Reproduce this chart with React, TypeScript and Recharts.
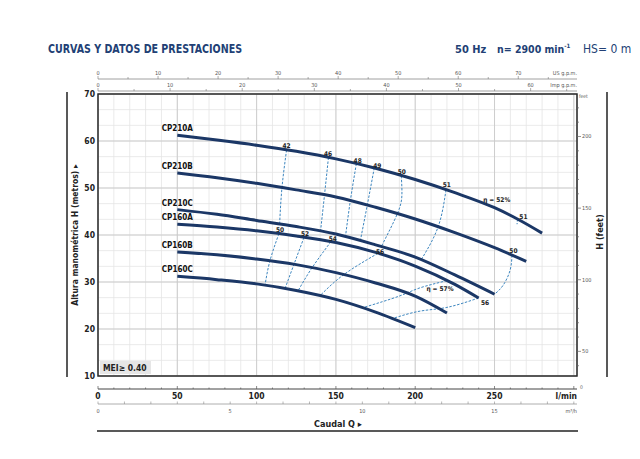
import React from 'react';
import { ComposedChart, Line, XAxis, YAxis, CartesianGrid, ReferenceArea, ReferenceDot } from 'recharts';

const FONT = "'Liberation Sans Narrow','DejaVu Sans Condensed','Liberation Sans',Arial,sans-serif";
const NAVY = '#1b3766';
const TITLE = '#223f75';
const DASH = '#3d86bf';

// unit conversions (secondary axes)
const Q_MAX = 302; // l/min at right edge of plot
const LPM_PER_USGPM = 3.78541;
const LPM_PER_IMPGPM = 4.54609;
const LPM_PER_M3H = 1000 / 60;
const FT_PER_M = 3.28084;

// ---- pump curves: flow (l/min) / head (m) ----
const cp210aFlow = [50, 75, 100, 125, 150, 175, 200, 225, 250, 265, 280];
const cp210aHead = [61.2, 60.2, 59.1, 57.8, 56.2, 54.2, 51.8, 49.0, 45.8, 43.3, 40.4];
const cp210bFlow = [50, 75, 100, 125, 150, 175, 200, 225, 250, 270];
const cp210bHead = [53.2, 52.2, 51.0, 49.6, 48.1, 45.9, 43.4, 40.5, 37.3, 34.4];
const cp210cFlow = [50, 75, 100, 125, 150, 175, 200, 225, 250];
const cp210cHead = [45.4, 44.4, 43.1, 41.8, 40.2, 37.9, 35.3, 31.5, 27.4];
const cp160aFlow = [50, 75, 100, 125, 150, 175, 200, 225, 240];
const cp160aHead = [42.3, 41.7, 40.9, 39.8, 38.4, 36.3, 33.4, 29.5, 26.6];
const cp160bFlow = [50, 75, 100, 125, 150, 175, 200, 220];
const cp160bHead = [36.4, 35.8, 34.9, 33.7, 32.0, 29.8, 27.0, 23.4];
const cp160cFlow = [50, 75, 100, 125, 150, 175, 200];
const cp160cHead = [31.2, 30.5, 29.6, 28.2, 26.3, 23.6, 20.3];
const curveNames = ['CP210A', 'CP210B', 'CP210C', 'CP160A', 'CP160B', 'CP160C'];

// ---- iso-efficiency lines (dashed): flow / head ----
const eff42Q = [118.9, 116.0, 114.5];
const eff42H = [58.1, 50.1, 42.3];
const eff46Q = [145.3, 142.8, 140.3];
const eff46H = [56.5, 48.5, 40.8];
const eff48Q = [162.9, 159.1, 156.0];
const eff48H = [55.2, 47.3, 39.6];
const eff49Q = [174.2, 169.8, 165.4];
const eff49H = [54.3, 46.4, 38.8];
const eff50Q = [191.2, 191.6, 188.7, 178.4];
const eff50H = [52.6, 48.5, 44.5, 37.4];
const eff51Q = [219.4, 214.4, 203.7];
const eff51H = [49.6, 41.7, 34.7];
const eff51rQ = [264.5, 264.2];
const eff51rH = [43.4, 42.3];
const eff50rQ = [261.0, 259.8, 255.4, 250.0];
const eff50rH = [35.7, 32.5, 29.3, 27.4];
const eff50bQ = [114.1, 108.4, 105.3];
const eff50bH = [40.3, 34.5, 29.3];
const eff52Q = [129.9, 123.6, 117.9];
const eff52H = [39.5, 33.8, 28.6];
const eff54Q = [146.9, 134.9, 126.1];
const eff54H = [38.6, 33.0, 28.1];
const eff56Q = [176.5, 155.1, 140.0];
const eff56H = [36.1, 31.6, 27.1];
const eff56rQ = [240.0, 220.0, 203.0, 185.4];
const eff56rH = [26.6, 24.6, 23.8, 22.2];
const eff57Q = [220.1, 202.5, 189.9, 166.7];
const eff57H = [30.3, 28.7, 27.0, 24.5];

// ---- efficiency labels ----
const effLabelText = ['42', '46', '48', '49', '50', '51', 'η = 52%', '51', '50', '50', '52', '54', '56', 'η = 57%', '56'];
const effLabelQ = [118.9, 145.0, 163.7, 176.1, 191.5, 219.9, 251.4, 268.2, 261.9, 114.8, 130.5, 148.0, 177.8, 215.6, 244.0];
const effLabelH = [59.1, 57.3, 55.9, 54.8, 53.4, 50.6, 47.5, 43.8, 36.7, 41.1, 40.3, 39.2, 36.4, 28.6, 25.5];

// ---- tick values ----
const lpmLabels = [0, 50, 100, 150, 200, 250];
const lpmTicks = Array.from({ length: 31 }, (_, i) => i * 10);
const lpmMajor = [50, 100, 150, 200, 250, 300];
const usTicks = Array.from({ length: 16 }, (_, i) => i * 5);
const usLabels = [0, 10, 20, 30, 40, 50, 60, 70];
const impTicks = Array.from({ length: 14 }, (_, i) => i * 5);
const impLabels = [0, 10, 20, 30, 40, 50, 60];
const m3Ticks = Array.from({ length: 19 }, (_, i) => i);
const m3Labels = [0, 5, 10, 15];
const metreTicks = Array.from({ length: 19 }, (_, i) => 10 + (i * 10) / 3);
const metreLabels = [10, 20, 30, 40, 50, 60, 70];
const metreMajor = [20, 30, 40, 50, 60];
const ftTicks = Array.from({ length: 19 }, (_, i) => 40 + i * 10);
const ftLabels = [50, 100, 150, 200];

// flow table in all units (feeds the secondary flow axes)
const flowTable = lpmTicks.map((q) => ({
  q,
  us: q / LPM_PER_USGPM,
  imp: q / LPM_PER_IMPGPM,
  m3: q / LPM_PER_M3H,
}));

const curves = [
  { name: curveNames[0], flow: cp210aFlow, head: cp210aHead },
  { name: curveNames[1], flow: cp210bFlow, head: cp210bHead },
  { name: curveNames[2], flow: cp210cFlow, head: cp210cHead },
  { name: curveNames[3], flow: cp160aFlow, head: cp160aHead },
  { name: curveNames[4], flow: cp160bFlow, head: cp160bHead },
  { name: curveNames[5], flow: cp160cFlow, head: cp160cHead },
];
const isoLines = [
  [eff42Q, eff42H], [eff46Q, eff46H], [eff48Q, eff48H], [eff49Q, eff49H], [eff50Q, eff50H],
  [eff51Q, eff51H], [eff51rQ, eff51rH], [eff50rQ, eff50rH], [eff50bQ, eff50bH], [eff52Q, eff52H],
  [eff54Q, eff54H], [eff56Q, eff56H], [eff56rQ, eff56rH], [eff57Q, eff57H],
];
const toData = (q: number[], h: number[]) => q.map((x, i) => ({ q: x, h: h[i] }));
const near = (v: number, list: number[]) => list.some((l) => Math.abs(l - v) < 1e-6);

const MetreTick = (p: any) =>
  near(p.payload.value, metreLabels) ? (
    <text x={p.x - 3} y={p.y + 3} textAnchor="end" fontSize={8.5} fontWeight={700} fill="#222" fontFamily={FONT}>
      {Math.round(p.payload.value)}
    </text>
  ) : (
    <g />
  );

const FtTick = (p: any) => {
  const major = near(p.payload.value, ftLabels);
  return (
    <g>
      <line x1={p.x} x2={p.x + (major ? 4 : 2)} y1={p.y} y2={p.y} stroke="#666" strokeWidth={0.7} />
      {major && (
        <text x={p.x + 5} y={p.y + 2} fontSize={5.5} fill="#555" fontFamily={FONT}>
          {p.payload.value}
        </text>
      )}
    </g>
  );
};

const topTick = (labels: number[]) => (p: any) => {
  const v = Math.round(p.payload.value * 1000) / 1000;
  const major = near(v, labels);
  return (
    <g>
      <line x1={p.x} x2={p.x} y1={p.y} y2={p.y - (major ? 3 : 2)} stroke="#777" strokeWidth={0.6} />
      {major && (
        <text x={p.x} y={p.y - 4} textAnchor="middle" fontSize={5.5} fill="#555" fontFamily={FONT}>
          {v}
        </text>
      )}
    </g>
  );
};

const LpmTick = (p: any) => {
  const v = p.payload.value;
  const major = near(v, lpmMajor) || v === 0;
  return (
    <g>
      <line x1={p.x} x2={p.x} y1={p.y} y2={p.y - (major ? 3 : 1.5)} stroke="#555" strokeWidth={0.7} />
      {near(v, lpmLabels) && (
        <text x={p.x} y={p.y + 9.5} textAnchor="middle" fontSize={8.5} fontWeight={700} fill="#222" fontFamily={FONT}>
          {v}
        </text>
      )}
    </g>
  );
};

const M3Tick = (p: any) => {
  const v = Math.round(p.payload.value * 1000) / 1000;
  const major = near(v, m3Labels);
  return (
    <g>
      <line x1={p.x} x2={p.x} y1={p.y} y2={p.y - 2.5} stroke="#888" strokeWidth={0.6} />
      {major && (
        <text x={p.x} y={p.y + 9} textAnchor="middle" fontSize={5.5} fill="#555" fontFamily={FONT}>
          {v}
        </text>
      )}
    </g>
  );
};

const endLabel = (text: string, dyFromBottom: number | null, dyFromTop: number | null, size: number, bold: boolean) =>
  (props: any) => {
    const vb = props.viewBox || {};
    const y = dyFromBottom != null ? vb.y + vb.height - dyFromBottom : vb.y + (dyFromTop as number);
    return (
      <text x={vb.x + vb.width} y={y} textAnchor="end" fontSize={size} fontWeight={bold ? 700 : 400} fill={bold ? '#222' : '#555'} fontFamily={FONT}>
        {text}
      </text>
    );
  };

export default function App() {
  return (
    <div style={{ position: 'absolute', left: 0, top: 0, width: 640, height: 459, background: '#fff' }}>
      <ComposedChart width={640} height={459} data={flowTable} margin={{ top: 66, right: 33, bottom: 41, left: 68 }}>
        <XAxis xAxisId="t1gap" orientation="top" type="number" dataKey="q" domain={[0, Q_MAX]} allowDataOverflow height={3} axisLine={false} tickLine={false} tick={false} />
        <XAxis
          xAxisId="t2imp" orientation="top" type="number" dataKey="imp" domain={[0, Q_MAX / LPM_PER_IMPGPM]} allowDataOverflow
          ticks={impTicks} interval={0} height={12} tickSize={0} tickMargin={0} tickLine={false}
          axisLine={{ stroke: '#888', strokeWidth: 0.8 }} tick={topTick(impLabels)}
          label={endLabel('Imp g.p.m.', 4, null, 5.5, false)}
        />
        <XAxis
          xAxisId="t3us" orientation="top" type="number" dataKey="us" domain={[0, Q_MAX / LPM_PER_USGPM]} allowDataOverflow
          ticks={usTicks} interval={0} height={13} tickSize={0} tickMargin={0} tickLine={false}
          axisLine={{ stroke: '#888', strokeWidth: 0.8 }} tick={topTick(usLabels)}
          label={endLabel('US g.p.m.', 4, null, 5.5, false)}
        />
        <XAxis xAxisId="b1gap" orientation="bottom" type="number" dataKey="q" domain={[0, Q_MAX]} allowDataOverflow height={13} axisLine={false} tickLine={false} tick={false} />
        <XAxis
          xAxisId="b2q" orientation="bottom" type="number" dataKey="q" domain={[0, Q_MAX]} allowDataOverflow
          ticks={lpmTicks} interval={0} height={15} tickSize={0} tickMargin={0} tickLine={false}
          axisLine={{ stroke: '#444', strokeWidth: 1 }} tick={LpmTick}
          label={endLabel('l/min', null, 9.5, 8.5, true)}
        />
        <XAxis
          xAxisId="b3m3" orientation="bottom" type="number" dataKey="m3" domain={[0, Q_MAX / LPM_PER_M3H]} allowDataOverflow
          ticks={m3Ticks} interval={0} height={14} tickSize={0} tickMargin={0} tickLine={false}
          axisLine={{ stroke: '#999', strokeWidth: 0.8 }} tick={M3Tick}
          label={endLabel('m³/h', null, 9, 5.5, false)}
        />
        <XAxis xAxisId="zmaj" hide type="number" dataKey="q" domain={[0, Q_MAX]} allowDataOverflow ticks={lpmMajor} interval={0} />
        <YAxis
          yAxisId="m" orientation="left" type="number" domain={[10, 70]} allowDataOverflow width={30}
          ticks={metreTicks} interval={0} tickSize={0} tickMargin={0} tickLine={false} axisLine={false} tick={MetreTick}
        />
        <YAxis yAxisId="mmaj" hide type="number" domain={[10, 70]} allowDataOverflow ticks={metreMajor} interval={0} />
        <YAxis
          yAxisId="ft" orientation="right" type="number" domain={[10 * FT_PER_M, 70 * FT_PER_M]} allowDataOverflow width={30}
          ticks={ftTicks} interval={0} tickSize={0} tickMargin={0} tickLine={false} axisLine={false} tick={FtTick}
        />
        <CartesianGrid xAxisId="b2q" yAxisId="m" stroke="#e4e4e4" strokeWidth={0.8} />
        <CartesianGrid xAxisId="zmaj" yAxisId="mmaj" stroke="#c9c9c9" strokeWidth={0.9} />
        <ReferenceArea xAxisId="b2q" yAxisId="m" x1={0} x2={Q_MAX} y1={10} y2={70} fill="none" fillOpacity={0} stroke="#2a2a2a" strokeWidth={1.5} />
        {isoLines.map(([q, h], i) => (
          <Line
            key={'iso' + i} xAxisId="b2q" yAxisId="m" data={toData(q, h)} dataKey="h" type="natural"
            stroke={DASH} strokeWidth={1} strokeDasharray="2.5 1.5" dot={false} activeDot={false} isAnimationActive={false}
          />
        ))}
        {curves.map((c) => (
          <Line
            key={c.name} xAxisId="b2q" yAxisId="m" data={toData(c.flow, c.head)} dataKey="h" name={c.name} type="monotone"
            stroke={NAVY} strokeWidth={3} dot={false} activeDot={false} isAnimationActive={false}
          />
        ))}
        {curves.map((c) => (
          <ReferenceDot
            key={'lbl' + c.name} xAxisId="b2q" yAxisId="m" x={c.flow[0]} y={c.head[0]} r={1}
            shape={(p: any) => (
              <text x={p.cx} y={p.cy - 4} textAnchor="middle" fontSize={8} fontWeight={700} fill="#111" fontFamily={FONT}>
                {c.name}
              </text>
            )}
          />
        ))}
        {effLabelText.map((t, i) => (
          <ReferenceDot
            key={'eff' + i} xAxisId="b2q" yAxisId="m" x={effLabelQ[i]} y={effLabelH[i]} r={1}
            shape={(p: any) => (
              <text x={p.cx} y={p.cy + 2.3} textAnchor="middle" fontSize={6.5} fontWeight={700} fill="#222" fontFamily={FONT}>
                {t}
              </text>
            )}
          />
        ))}
      </ComposedChart>
      <svg width={640} height={459} style={{ position: 'absolute', left: 0, top: 0, pointerEvents: 'none' }}>
        <text x={48} y={52.5} fontSize={12.5} fontWeight={700} fill={TITLE} fontFamily={FONT} textLength={194} lengthAdjust="spacingAndGlyphs">
          CURVAS Y DATOS DE PRESTACIONES
        </text>
        <text x={455} y={52.5} fontSize={11} fontWeight={700} fill={TITLE} fontFamily={FONT}>
          50 Hz
        </text>
        <text x={497} y={52.5} fontSize={10.5} fontWeight={700} fill={TITLE} fontFamily={FONT}>
          n= 2900 min<tspan fontSize={6} dy={-4.5}>-1</tspan>
        </text>
        <text x={583} y={52.5} fontSize={12} fill={TITLE} fontFamily={FONT}>
          HS= 0 m
        </text>
        <text x={579} y={98} fontSize={5} fill="#555" fontFamily={FONT}>feet</text>
        <text x={580} y={389} fontSize={5} fill="#666" fontFamily={FONT}>0</text>
        <line x1={67} x2={67} y1={92} y2={377} stroke="#222" strokeWidth={1.5} />
        <line x1={607} x2={607} y1={92} y2={377} stroke="#222" strokeWidth={1.5} />
        <text transform="translate(78,235) rotate(-90)" textAnchor="middle" fontSize={8.5} fontWeight={700} fill="#222" fontFamily={FONT}>
          Altura manométrica H (metros) ▸
        </text>
        <text transform="translate(603,232) rotate(-90)" textAnchor="middle" fontSize={9} fontWeight={700} fill="#222" fontFamily={FONT}>
          H (feet)
        </text>
        <rect x={100} y={361} width={51} height={13} fill="#e6e6e6" />
        <text x={103} y={371} fontSize={8.5} fontWeight={700} fill="#222" fontFamily={FONT}>
          MEI≥ 0.40
        </text>
        <text x={338} y={426.5} textAnchor="middle" fontSize={9} fontWeight={700} fill="#222" fontFamily={FONT}>
          Caudal Q ▸
        </text>
        <line x1={97} x2={578} y1={431} y2={431} stroke="#222" strokeWidth={1.5} />
      </svg>
    </div>
  );
}
